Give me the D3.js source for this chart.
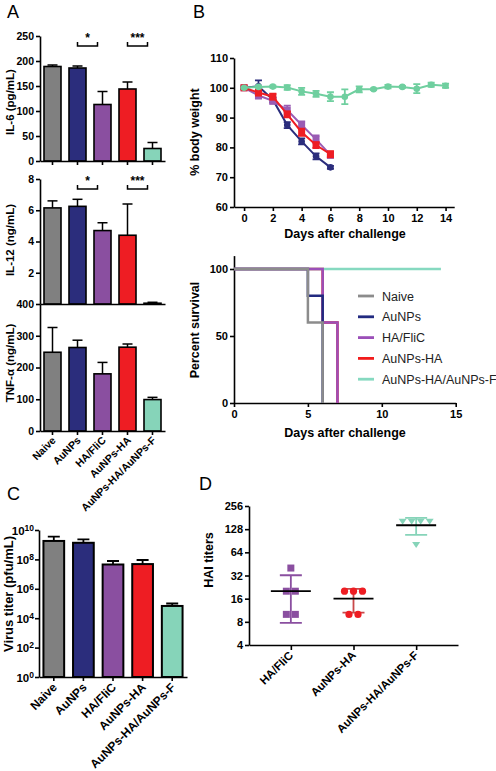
<!DOCTYPE html>
<html><head><meta charset="utf-8">
<script src="https://cdn.jsdelivr.net/npm/d3@7"></script>
<style>body{margin:0;background:#fff}</style>
</head><body><svg id="c" width="496" height="771" style="background:#fff"></svg>
<script>
// ---------- DATA ----------
const groups = ["Naive","AuNPs","HA/FliC","AuNPs-HA","AuNPs-HA/AuNPs-F"];
const groupColors = ["#808080","#2b2d7c","#8a4fa0","#ee1d23","#86d4b9"];
const il6 = [189,186,113,144,25];
const il6Err = [3,4,26,14,12];
const il6Ticks = [0,50,100,150,200,250];
const il12 = [6.15,6.25,4.7,4.4,0.05];
const il12Err = [0.45,0.45,0.5,2.0,0.06];
const il12Ticks = [2,4,6,8];
const tnf = [248,263,180,264,99];
const tnfErr = [78,23,36,10,7];
const tnfTicks = [0,100,200,300,400];
const sigIL6 = [["AuNPs","HA/FliC","*"],["AuNPs-HA","AuNPs-HA/AuNPs-F","***"]];
const sigIL12 = [["AuNPs","HA/FliC","*"],["AuNPs-HA","AuNPs-HA/AuNPs-F","***"]];

const days = [0,1,2,3,4,5,6,7,8,9,10,11,12,13,14];
const weightAuNPs = [100,100.5,96,87.5,82,77,73.3];
const weightAuNPsErr = [0.4,2,0.8,1,1,1,0.5];
const weightHAFliC = [100,97.4,95.6,92.5,87.5,82.7,77.5];
const weightHAFliCErr = [0.4,1,1,1.5,1.2,1.3,1];
const weightAuNPsHA = [100,98.4,97,91.1,85.1,80.8,77.7];
const weightAuNPsHAErr = [0.4,1,1,1,1.2,1,1];
const weightAuNPsF = [100,100.3,100.4,100.1,98.8,98,97,97,99.5,99.5,100.4,100.3,99.7,101,100.7];
const weightAuNPsFErr = [0.3,0.3,0.3,0.8,1.2,1,1.5,2.5,1,0.3,0.6,0.3,1.5,0.7,0.7];
const weightXTicks = [0,2,4,6,8,10,12,14];
const weightYTicks = [60,70,80,90,100,110];

const survNaive = [[0,100],[5,60],[6,0]];
const survAuNPs = [[0,100],[5,80],[6,0]];
const survHAFliC = [[0,100],[6,60],[7,0]];
const survAuNPsHA = [[0,100],[6,60],[7,0]];
const survAuNPsF = [[0,100],[14,100]];
const survXTicks = [0,5,10,15];
const survYTicks = [0,50,100];

const virusTiter = [1.8e9,1.35e9,4.5e7,4.8e7,6.8e4];
const virusTiterErrTop = [3.5e9,2.3e9,7.8e7,9.1e7,1.0e5];
const virusTicks = [1,1e2,1e4,1e6,1e8,1e10];

const haiGroups = ["HA/FliC","AuNPs-HA","AuNPs-HA/AuNPs-F"];
const haiColors = ["#8a4fa0","#ee1d23","#86d4b9"];
const haiErrColors = ["#8a4fa0","#c9494a","#86d4b9"];
const haiHAFliC = [40,20,20,10,10];
const haiAuNPsHA = [20,20,20,10,10];
const haiAuNPsF = [160,160,160,160,80];
const haiTicks = [4,8,16,32,64,128,256];

// ---------- HELPERS ----------
const F = "'Liberation Sans', Arial, Helvetica, sans-serif";
const svg = d3.select("#c");
function styleAxis(g, fs){
  g.selectAll(".domain").attr("stroke","#000").attr("stroke-width",1.6);
  g.selectAll(".tick line").attr("stroke","#000").attr("stroke-width",1.6);
  g.selectAll(".tick text").attr("font-family",F).attr("font-weight","bold")
    .attr("font-size",fs||11).attr("fill","#000");
}
function panelLabel(t,x,y){
  svg.append("text").attr("x",x).attr("y",y).text(t)
    .attr("font-family",F).attr("font-size",18).attr("fill","#000");
}
function yTitle(t,x,y,fs){
  svg.append("text").attr("transform",`translate(${x},${y}) rotate(-90)`)
    .attr("text-anchor","middle").attr("font-family",F).attr("font-weight","bold")
    .attr("font-size",fs||12).text(t);
}
function xTitle(t,x,y,fs){
  svg.append("text").attr("x",x).attr("y",y).attr("text-anchor","middle")
    .attr("font-family",F).attr("font-weight","bold").attr("font-size",fs||12.5).text(t);
}

// ---------- PANEL A ----------
panelLabel("A",7,18);
const xA = d3.scaleBand().domain(groups).range([40,165]).paddingInner(0.32).paddingOuter(0.16);
function barPlot(vals, errs, y, ticks, xAxisY, xTick){
  const g = svg.append("g");
  vals.forEach((v,i)=>{
    const cx = xA(groups[i]) + xA.bandwidth()/2;
    g.append("line").attr("x1",cx).attr("x2",cx).attr("y1",y(v)).attr("y2",y(v+errs[i]))
      .attr("stroke","#000").attr("stroke-width",1.5);
    g.append("line").attr("x1",cx-5).attr("x2",cx+5).attr("y1",y(v+errs[i])).attr("y2",y(v+errs[i]))
      .attr("stroke","#000").attr("stroke-width",1.5);
  });
  g.selectAll("rect").data(vals).join("rect")
    .attr("x",(d,i)=>xA(groups[i])).attr("width",xA.bandwidth())
    .attr("y",d=>y(d)).attr("height",d=>y.range()[0]-y(d))
    .attr("fill",(d,i)=>groupColors[i]).attr("stroke","#000").attr("stroke-width",1.6);
  const ya = svg.append("g").attr("transform","translate(40,0)")
    .call(d3.axisLeft(y).tickValues(ticks).tickSize(4).tickPadding(2).tickSizeOuter(0));
  styleAxis(ya,10.5);
  const xa = svg.append("g").attr("transform",`translate(0,${xAxisY})`)
    .call(d3.axisBottom(xA).tickSize(xTick).tickFormat("").tickSizeOuter(0));
  styleAxis(xa);
}
function brackets(sig, y){
  const yy = y(y.domain()[1]*0.92);
  sig.forEach(s=>{
    const x1 = xA(s[0])+xA.bandwidth()/2, x2 = xA(s[1])+xA.bandwidth()/2-5;
    svg.append("path").attr("d",`M${x1},${yy-4}V${yy}H${x2}V${yy-4}`)
      .attr("fill","none").attr("stroke","#000").attr("stroke-width",1.5);
    svg.append("text").attr("x",(x1+x2)/2).attr("y",yy-4).attr("text-anchor","middle")
      .attr("font-family",F).attr("font-weight","bold").attr("font-size",12).text(s[2]);
  });
}
const yIL6 = d3.scaleLinear([0,250],[161,36]);
barPlot(il6, il6Err, yIL6, il6Ticks, 161, 4);
brackets(sigIL6, yIL6);
yTitle("IL-6 (pg/mL)",14,102,11.5);

const yIL12 = d3.scaleLinear([0,8],[304,179]);
barPlot(il12, il12Err, yIL12, il12Ticks, 304, 0);
brackets(sigIL12, yIL12);
yTitle("IL-12 (ng/mL)",14,240,11.5);

const yTNF = d3.scaleLinear([0,400],[431,304]);
barPlot(tnf, tnfErr, yTNF, tnfTicks, 431, 4);
yTitle("TNF-α (ng/mL)",14,363,11.5);

groups.forEach((gname,i)=>{
  const cx = xA(gname)+xA.bandwidth()/2;
  svg.append("text").attr("transform",`translate(${cx+4},${441}) rotate(-45)`)
    .attr("text-anchor","end").attr("font-family",F).attr("font-weight","bold")
    .attr("font-size",10.5).text(gname);
});

// ---------- PANEL B top ----------
panelLabel("B",193,18);
const xW = d3.scaleLinear([-0.7,14.6],[234,454.2]);
const yW = d3.scaleLinear([60,110],[207,58]);
const wx = svg.append("g").attr("transform","translate(0,207)")
  .call(d3.axisBottom(xW).tickValues(weightXTicks).tickSize(4).tickSizeOuter(0).tickPadding(3));
styleAxis(wx,11);
const wy = svg.append("g").attr("transform","translate(234,0)")
  .call(d3.axisLeft(yW).tickValues(weightYTicks).tickSize(4).tickSizeOuter(0).tickPadding(2));
styleAxis(wy,11);
yTitle("% body weight",199,132,12.5);
xTitle("Days after challenge",345,238);

const weightSeries = [
  {v:weightAuNPs,e:weightAuNPsErr,c:"#2b2d7c",m:"circle"},
  {v:weightHAFliC,e:weightHAFliCErr,c:"#9a5cb4",m:"square"},
  {v:weightAuNPsHA,e:weightAuNPsHAErr,c:"#ee1d23",m:"square"},
  {v:weightAuNPsF,e:weightAuNPsFErr,c:"#6fcf9f",m:"circle"}
];
weightSeries.forEach(s=>{
  const g = svg.append("g");
  const pts = s.v.map((v,i)=>[days[i],v,s.e[i]]);
  g.append("path").attr("d",d3.line().x(d=>xW(d[0])).y(d=>yW(d[1]))(pts))
    .attr("fill","none").attr("stroke",s.c).attr("stroke-width",2);
  pts.forEach(p=>{
    const cx = xW(p[0]);
    g.append("path").attr("d",`M${cx},${yW(p[1]-p[2])}V${yW(p[1]+p[2])}M${cx-3.5},${yW(p[1]-p[2])}h7M${cx-3.5},${yW(p[1]+p[2])}h7`)
      .attr("stroke",s.c).attr("stroke-width",1.8).attr("fill","none");
    if(s.m==="circle") g.append("circle").attr("cx",cx).attr("cy",yW(p[1])).attr("r",3.3).attr("fill",s.c);
    else g.append("rect").attr("x",cx-3.5).attr("y",yW(p[1])-3.5).attr("width",7).attr("height",7).attr("fill",s.c);
  });
});

// ---------- PANEL B bottom ----------
const xS = d3.scaleLinear([0,15],[234,455.7]);
const yS = d3.scaleLinear([0,110],[403,255.6]);
const sx = svg.append("g").attr("transform","translate(0,403)")
  .call(d3.axisBottom(xS).tickValues(survXTicks).tickSize(4).tickSizeOuter(0).tickPadding(3));
styleAxis(sx,11);
const sy = svg.append("g").attr("transform","translate(234,0)")
  .call(d3.axisLeft(yS).tickValues(survYTicks).tickSize(4).tickSizeOuter(0).tickPadding(2));
styleAxis(sy,11);
yTitle("Percent survival",199,330,12.5);
xTitle("Days after challenge",345,437);
const survSeries = [
  {d:survAuNPsHA,c:"#f21c1c",n:"AuNPs-HA"},
  {d:survAuNPsF,c:"#86d9c0",n:"AuNPs-HA/AuNPs-F"},
  {d:survHAFliC,c:"#9b4fb8",n:"HA/FliC"},
  {d:survAuNPs,c:"#222a80",n:"AuNPs"},
  {d:survNaive,c:"#8c8c8c",n:"Naive"}
];
const stepLine = d3.line().x(d=>xS(d[0])).y(d=>yS(d[1])).curve(d3.curveStepAfter);
survSeries.forEach(s=>{
  svg.append("path").attr("d",stepLine(s.d)).attr("fill","none")
    .attr("stroke",s.c).attr("stroke-width",2.5);
});
const legendOrder = ["Naive","AuNPs","HA/FliC","AuNPs-HA","AuNPs-HA/AuNPs-F"];
legendOrder.forEach((n,i)=>{
  const s = survSeries.find(t=>t.n===n);
  const ly = 296 + i*20.8;
  svg.append("line").attr("x1",358).attr("x2",374).attr("y1",ly).attr("y2",ly)
    .attr("stroke",s.c).attr("stroke-width",2.8);
  svg.append("text").attr("x",382).attr("y",ly+4.5).attr("font-family",F)
    .attr("font-size",12.5).attr("fill","#222").text(n);
});

// ---------- PANEL C ----------
panelLabel("C",7,500);
const xC = d3.scaleBand().domain(groups).range([39,187]).paddingInner(0.3).paddingOuter(0.15);
const yC = d3.scaleLog().domain([1,1e10]).range([677,530]);
virusTiter.forEach((v,i)=>{
  const cx = xC(groups[i])+xC.bandwidth()/2;
  svg.append("path").attr("d",`M${cx},${yC(v)}V${yC(virusTiterErrTop[i])}M${cx-6},${yC(virusTiterErrTop[i])}h12`)
    .attr("stroke","#000").attr("stroke-width",1.8).attr("fill","none");
});
svg.append("g").selectAll("rect").data(virusTiter).join("rect")
  .attr("x",(d,i)=>xC(groups[i])).attr("width",xC.bandwidth())
  .attr("y",d=>yC(d)).attr("height",d=>677-yC(d))
  .attr("fill",(d,i)=>groupColors[i]).attr("stroke","#000").attr("stroke-width",2);
const cy = svg.append("g").attr("transform","translate(39,0)")
  .call(d3.axisLeft(yC).tickValues(virusTicks).tickSize(4).tickSizeOuter(0).tickPadding(2).tickFormat(""));
styleAxis(cy);
cy.selectAll(".tick").each(function(d){
  const t = d3.select(this).append("text").attr("x",-5).attr("dy","0.35em")
    .attr("text-anchor","end").attr("font-family",F).attr("font-weight","bold").attr("font-size",11.5).attr("fill","#000");
  t.append("tspan").text("10");
  t.append("tspan").attr("dy","-0.45em").attr("font-size",8.5).text(Math.round(Math.log10(d)));
});
const cxa = svg.append("g").attr("transform","translate(0,677)")
  .call(d3.axisBottom(xC).tickSize(4).tickFormat("").tickSizeOuter(0));
styleAxis(cxa);
groups.forEach(gname=>{
  const cx = xC(gname)+xC.bandwidth()/2;
  svg.append("text").attr("transform",`translate(${cx+4},${688}) rotate(-45)`)
    .attr("text-anchor","end").attr("font-family",F).attr("font-weight","bold")
    .attr("font-size",12).text(gname);
});
yTitle("Virus titer (pfu/mL)",13,594,13);

// ---------- PANEL D ----------
panelLabel("D",199,490);
const xD = d3.scalePoint().domain(haiGroups).range([249,458]).padding(0.668);
const yD = d3.scaleLog().base(2).domain([4,256]).range([645,506]);
const dy = svg.append("g").attr("transform","translate(249,0)")
  .call(d3.axisLeft(yD).tickValues(haiTicks).tickSize(4).tickSizeOuter(0).tickPadding(2).tickFormat(d3.format("d")));
styleAxis(dy,11);
const dxa = svg.append("g").attr("transform","translate(0,645)")
  .call(d3.axisBottom(xD).tickSize(5).tickFormat("").tickSizeOuter(0));
styleAxis(dxa);
yTitle("HAI titers",213,560,12.5);
const haiData = [haiHAFliC, haiAuNPsHA, haiAuNPsF];
haiData.forEach((vals,gi)=>{
  const cx = xD(haiGroups[gi]);
  const mean = d3.mean(vals), sd = d3.deviation(vals);
  const col = haiColors[gi];
  const g = svg.append("g");
  g.append("path").attr("d",`M${cx},${yD(mean-sd)}V${yD(mean+sd)}M${cx-11},${yD(mean-sd)}h22M${cx-11},${yD(mean+sd)}h22`)
    .attr("stroke",haiErrColors[gi]).attr("stroke-width",1.8).attr("fill","none");
  const counts = d3.rollup(vals,v=>v.length,d=>d);
  const seen = new Map();
  vals.forEach(v=>{
    const n = counts.get(v), k = seen.get(v)||0; seen.set(v,k+1);
    const px = cx + (k-(n-1)/2)*9, py = yD(v);
    if(gi===0) g.append("rect").attr("x",px-3.5).attr("y",py-3.5).attr("width",7).attr("height",7).attr("fill",col);
    else if(gi===1) g.append("circle").attr("cx",px).attr("cy",py).attr("r",3.6).attr("fill",col);
    else g.append("path").attr("d",`M${px-4},${py-3}h8l-4,6z`).attr("fill",col);
  });
  g.append("line").attr("x1",cx-20).attr("x2",cx+20).attr("y1",yD(mean)).attr("y2",yD(mean))
    .attr("stroke","#000").attr("stroke-width",1.8);
});
haiGroups.forEach(gname=>{
  const cx = xD(gname);
  svg.append("text").attr("transform",`translate(${cx+3},${656}) rotate(-45)`)
    .attr("text-anchor","end").attr("font-family",F).attr("font-weight","bold")
    .attr("font-size",11.5).text(gname);
});
</script>
</body></html>
